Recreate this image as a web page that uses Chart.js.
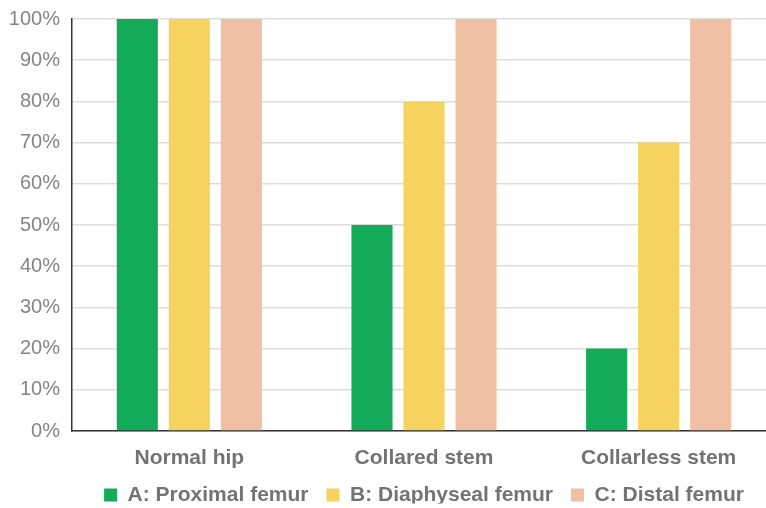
<!DOCTYPE html>
<html>
<head>
<meta charset="utf-8">
<script src="https://cdn.jsdelivr.net/npm/chart.js@4"></script>
<style>
html,body{margin:0;padding:0;background:#fff;overflow:hidden;}
#wrap{width:776px;height:508px;position:relative;}
</style>
</head>
<body>
<div id="wrap"><canvas id="c"></canvas></div>
<script>
const categories = ["Normal hip", "Collared stem", "Collarless stem"];
const seriesNames = ["A: Proximal femur", "B: Diaphyseal femur", "C: Distal femur"];
const proximal = [100, 50, 20];
const diaphyseal = [100, 80, 70];
const distal = [100, 100, 100];
const yTicks = [0, 10, 20, 30, 40, 50, 60, 70, 80, 90, 100];
const colors = ["#13AA58", "#F6D35E", "#F0C0A4"];

const FONT = "'Liberation Sans', Arial, sans-serif";
const legendFix = {
  id: 'legendFix',
  beforeLayout(chart) {
    const lg = chart.legend;
    if (lg && !lg._patched) {
      const orig = lg.fit.bind(lg);
      lg.fit = function () { orig(); this.height = 37; };
      lg._patched = true;
    }
  },
  afterLayout(chart) {
    const lg = chart.legend;
    if (lg) {
      const shift = 4.5;
      lg.top -= shift;
      lg.bottom -= shift;
    }
  }
};
new Chart(document.getElementById('c'), {
  type: 'bar',
  data: {
    labels: categories,
    datasets: [proximal, diaphyseal, distal].map((d, i) => ({
      label: seriesNames[i],
      data: d,
      backgroundColor: colors[i],
      borderWidth: 0,
      categoryPercentage: 0.665,
      barPercentage: 0.79
    }))
  },
  plugins: [legendFix],
  options: {
    responsive: true,
    maintainAspectRatio: false,
    animation: false,
    layout: { padding: { top: 12, right: 0, left: 0, bottom: 0 } },
    plugins: {
      tooltip: { enabled: false },
      legend: {
        position: 'bottom',
        fullSize: false,
        labels: {
          boxWidth: 13, boxHeight: 13, padding: 18,
          color: '#737373',
          font: { family: FONT, size: 21, weight: 'bold' }
        }
      }
    },
    scales: {
      x: {
        grid: { display: false, drawTicks: false },
        border: { display: true, color: '#333', width: 1.5 },
        ticks: { color: '#737373', padding: 15, font: { family: FONT, size: 21, weight: 'bold' } },
        afterFit: s => { s.height = 40; }
      },
      y: {
        min: 0, max: 100,
        afterBuildTicks: s => { s.ticks = yTicks.map(v => ({ value: v })); },
        grid: { color: '#dddddd', lineWidth: 1.5, drawTicks: false },
        border: { display: true, color: '#333', width: 1.5 },
        ticks: { color: '#858585', padding: 12, font: { family: FONT, size: 20, lineHeight: 0.7 }, callback: v => v + '%' },
        afterFit: s => { s.width = 72; }
      }
    }
  }
});
</script>
</body>
</html>
